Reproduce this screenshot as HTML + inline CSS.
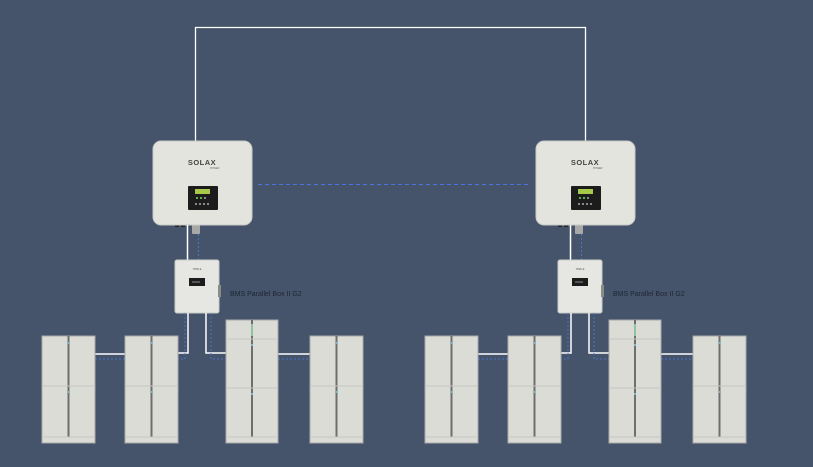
<!DOCTYPE html>
<html><head><meta charset="utf-8"><style>
html,body{margin:0;padding:0;background:#45546b;}
svg{display:block}
</style></head><body>
<svg width="813" height="467" viewBox="0 0 813 467" xmlns="http://www.w3.org/2000/svg">
<rect width="813" height="467" fill="#45546b"/>
<defs>
<g id="batt">
  <rect x="0" y="0" width="53" height="107" fill="#dcdcd7" stroke="#a9aaa8" stroke-width="1"/>
  <line x1="26.5" y1="0" x2="26.5" y2="101" stroke="#6e6f6c" stroke-width="2"/>
  <line x1="0" y1="50" x2="53" y2="50" stroke="#c4c5c1" stroke-width="1"/>
  <line x1="0" y1="101" x2="53" y2="101" stroke="#c4c5c1" stroke-width="1"/>
  <rect x="26" y="6" width="2" height="2" fill="#7fb6c9"/>
  <rect x="26" y="55" width="2" height="2" fill="#7fb6c9"/>
</g>
<g id="tall">
  <rect x="0" y="0" width="52" height="123" fill="#dcdcd7" stroke="#a9aaa8" stroke-width="1"/>
  <line x1="26" y1="0" x2="26" y2="117" stroke="#6e6f6c" stroke-width="2"/>
  <line x1="0" y1="19" x2="52" y2="19" stroke="#c4c5c1" stroke-width="1"/>
  <line x1="0" y1="68" x2="52" y2="68" stroke="#c4c5c1" stroke-width="1"/>
  <line x1="0" y1="117" x2="52" y2="117" stroke="#c4c5c1" stroke-width="1"/>
  <rect x="25" y="4" width="2" height="12" fill="#8fc3a0"/>
  <rect x="25" y="24" width="2" height="2" fill="#7fb6c9"/>
  <rect x="25" y="73" width="2" height="2" fill="#7fb6c9"/>
</g>
<g id="side">
  <!-- inverter -->
  <rect x="192" y="224" width="8" height="10" rx="1" fill="#a8a9a6"/>
  <rect x="175" y="225" width="4" height="2" fill="#222"/>
  <rect x="181" y="225" width="4" height="2" fill="#222"/>
  <rect x="153" y="141" width="99" height="84" rx="8" fill="#e4e4df" stroke="#c9cac6"/>
  <text x="202" y="165" font-family="Liberation Sans, sans-serif" font-size="7.5" font-weight="bold" fill="#444" text-anchor="middle" letter-spacing="0.5">SOLAX</text>
  <text x="210" y="169" font-family="Liberation Sans, sans-serif" font-size="2.5" fill="#666">POWER</text>
  <rect x="188" y="186" width="30" height="24" rx="1" fill="#1c1c1c"/>
  <rect x="195" y="189" width="15" height="5" fill="#a6c94a"/>
  <rect x="196" y="197" width="2" height="2" fill="#5bb04f"/><rect x="200" y="197" width="2" height="2" fill="#5bb04f"/><rect x="204" y="197" width="2" height="2" fill="#888"/>
  <rect x="195" y="203" width="2" height="2" fill="#888"/><rect x="199" y="203" width="2" height="2" fill="#888"/><rect x="203" y="203" width="2" height="2" fill="#888"/><rect x="207" y="203" width="2" height="2" fill="#888"/>
  <!-- inverter to BMS -->
  <line x1="187.5" y1="225" x2="187.5" y2="260" stroke="#fff" stroke-width="1.5"/>
  <line x1="198.5" y1="234" x2="198.5" y2="260" stroke="#4a72c8" stroke-width="1" stroke-dasharray="2,2"/>
  <!-- BMS -->
  <rect x="175" y="260" width="44" height="53" rx="2" fill="#e6e6e3" stroke="#c9cac6"/>
  <rect x="218" y="285" width="3" height="12" fill="#8a8b88"/>
  <text x="197" y="270" font-family="Liberation Sans, sans-serif" font-size="2.5" fill="#555" text-anchor="middle">TRIPLE</text>
  <rect x="189" y="278" width="16" height="8" fill="#1c1c1c"/>
  <rect x="192" y="281" width="8" height="2" fill="#555"/>
  <text x="230" y="296" font-family="Liberation Sans, sans-serif" font-size="7" fill="#1e2533">BMS Parallel Box II G2</text>
  <!-- lines to batteries -->
  <polyline points="188,313 188,353 178,353" fill="none" stroke="#fff" stroke-width="1.5"/>
  <polyline points="206,313 206,353 226,353" fill="none" stroke="#fff" stroke-width="1.5"/>
  <line x1="95" y1="354" x2="125" y2="354" stroke="#fff" stroke-width="1.5"/>
  <line x1="278" y1="354" x2="310" y2="354" stroke="#fff" stroke-width="1.5"/>
  <polyline points="185,313 185,359 178,359" fill="none" stroke="#4a72c8" stroke-width="1" stroke-dasharray="2,2"/>
  <polyline points="211,313 211,359 226,359" fill="none" stroke="#4a72c8" stroke-width="1" stroke-dasharray="2,2"/>
  <line x1="95" y1="359" x2="125" y2="359" stroke="#4a72c8" stroke-width="1" stroke-dasharray="2,2"/>
  <line x1="278" y1="359" x2="310" y2="359" stroke="#4a72c8" stroke-width="1" stroke-dasharray="2,2"/>
  <use href="#batt" x="42" y="336"/>
  <use href="#batt" x="125" y="336"/>
  <use href="#tall" x="226" y="320"/>
  <use href="#batt" x="310" y="336"/>
</g>
</defs>
<polyline points="195.5,141 195.5,27.5 585.5,27.5 585.5,141" fill="none" stroke="#fff" stroke-width="1.3"/>
<line x1="258" y1="184.5" x2="531" y2="184.5" stroke="#4a72e0" stroke-width="1" stroke-dasharray="4,3"/>
<use href="#side" x="0" y="0"/>
<use href="#side" x="383" y="0"/>
</svg>
</body></html>
